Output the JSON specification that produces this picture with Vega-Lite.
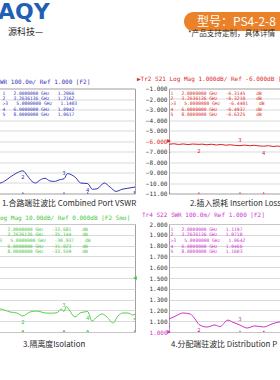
{
  "$schema": "https://vega.github.io/schema/vega-lite/v6.json",
  "padding": {"left": -33, "top": 0, "right": 0, "bottom": 0},
  "background": "white",
  "columns": 2,
  "align": "each",
  "bounds": "flush",
  "spacing": {"row": 30.5, "column": 34},
  "datasets": {
    "t1": [{"f":2.0,"v":1.2066},{"f":2.15,"v":1.15},{"f":2.3,"v":1.10},{"f":2.5,"v":1.12},{"f":2.75,"v":1.16},{"f":3.0,"v":1.195},{"f":3.2636,"v":1.2162},{"f":3.45,"v":1.17},{"f":3.65,"v":1.115},{"f":3.8,"v":1.10},{"f":4.0,"v":1.13},{"f":4.2,"v":1.145},{"f":4.4,"v":1.12},{"f":4.6,"v":1.115},{"f":4.8,"v":1.13},{"f":5.0,"v":1.1403},{"f":5.15,"v":1.19},{"f":5.3,"v":1.18},{"f":5.5,"v":1.15},{"f":5.7,"v":1.10},{"f":6.0,"v":1.0942},{"f":6.2,"v":1.04},{"f":6.4,"v":1.045},{"f":6.7,"v":1.10},{"f":6.95,"v":1.06},{"f":7.2,"v":1.02},{"f":7.45,"v":1.04},{"f":7.7,"v":1.05},{"f":8.0,"v":1.0617}],
    "t2": [{"f":2.0,"v":-6.3145},{"f":2.2,"v":-6.26},{"f":2.4,"v":-6.33},{"f":2.6,"v":-6.28},{"f":2.8,"v":-6.34},{"f":3.0,"v":-6.29},{"f":3.2636,"v":-6.321},{"f":3.4,"v":-6.30},{"f":3.6,"v":-6.36},{"f":3.8,"v":-6.31},{"f":4.0,"v":-6.38},{"f":4.2,"v":-6.33},{"f":4.4,"v":-6.40},{"f":4.6,"v":-6.36},{"f":4.8,"v":-6.42},{"f":5.0,"v":-6.4401},{"f":5.2,"v":-6.39},{"f":5.4,"v":-6.45},{"f":5.6,"v":-6.41},{"f":5.8,"v":-6.47},{"f":6.0,"v":-6.4937},{"f":6.2,"v":-6.45},{"f":6.4,"v":-6.52},{"f":6.6,"v":-6.48},{"f":6.8,"v":-6.55},{"f":7.0,"v":-6.51},{"f":7.2,"v":-6.58},{"f":7.4,"v":-6.54},{"f":7.6,"v":-6.61},{"f":7.8,"v":-6.57},{"f":8.0,"v":-6.6325}],
    "t3": [{"f":2.0,"v":-33.681},{"f":2.3,"v":-28.7},{"f":2.72,"v":-31.5},{"f":3.01,"v":-32.4},{"f":3.2636,"v":-35.144},{"f":3.56,"v":-31.5},{"f":3.86,"v":-30.6},{"f":4.2,"v":-32.4},{"f":4.41,"v":-32.6},{"f":4.7,"v":-32.2},{"f":4.88,"v":-28.7},{"f":5.0,"v":-30.937},{"f":5.1,"v":-26.5},{"f":5.25,"v":-30.6},{"f":5.46,"v":-36.1},{"f":5.68,"v":-32.4},{"f":5.84,"v":-31.5},{"f":6.0,"v":-31.023},{"f":6.18,"v":-39.8},{"f":6.39,"v":-36.1},{"f":6.61,"v":-33.3},{"f":6.82,"v":-36.1},{"f":7.07,"v":-41.7},{"f":7.28,"v":-35.2},{"f":7.49,"v":-32.4},{"f":7.7,"v":-32.4},{"f":7.91,"v":-34.3},{"f":8.0,"v":-33.559}],
    "t4": [{"f":2.0,"v":1.1197},{"f":2.3,"v":1.15},{"f":2.59,"v":1.176},{"f":2.89,"v":1.167},{"f":3.1,"v":1.12},{"f":3.2636,"v":1.071},{"f":3.6,"v":1.046},{"f":3.94,"v":1.065},{"f":4.15,"v":1.05},{"f":4.49,"v":1.11},{"f":4.7,"v":1.09},{"f":5.0,"v":1.0642},{"f":5.3,"v":1.037},{"f":5.63,"v":1.056},{"f":6.0,"v":1.0466},{"f":6.35,"v":1.074},{"f":6.69,"v":1.093},{"f":7.0,"v":1.07},{"f":7.4,"v":1.12},{"f":8.0,"v":1.1603}],
    "k1": [
      {"m":1,"f":2.0,"v":1.2066,"label":"\u00a01\u00a0\u00a0\u00a02.0000000\u00a0GHz\u00a0\u00a0\u00a01.2066"},
      {"m":2,"f":3.2636,"v":1.2162,"label":"\u00a02\u00a0\u00a0\u00a03.2636136\u00a0GHz\u00a0\u00a0\u00a01.2162"},
      {"m":3,"f":5.0,"v":1.1403,"label":">3\u00a0\u00a0\u00a05.0000000\u00a0GHz\u00a0\u00a0\u00a01.1403"},
      {"m":4,"f":6.0,"v":1.0942,"label":"\u00a04\u00a0\u00a0\u00a06.0000000\u00a0GHz\u00a0\u00a0\u00a01.0942"},
      {"m":5,"f":8.0,"v":1.0617,"label":"\u00a05\u00a0\u00a0\u00a08.0000000\u00a0GHz\u00a0\u00a0\u00a01.0617"}
    ],
    "k2": [
      {"m":1,"f":2.0,"v":-6.3145,"label":"\u00a01\u00a0\u00a0\u00a02.0000000\u00a0GHz\u00a0\u00a0\u00a0-6.3145\u00a0\u00a0\u00a0\u00a0dB"},
      {"m":2,"f":3.2636,"v":-6.321,"label":"\u00a02\u00a0\u00a0\u00a03.2636136\u00a0GHz\u00a0\u00a0\u00a0-6.3210\u00a0\u00a0\u00a0\u00a0dB"},
      {"m":3,"f":5.0,"v":-6.4401,"label":">3\u00a0\u00a0\u00a05.0000000\u00a0GHz\u00a0\u00a0\u00a0-6.4401\u00a0\u00a0\u00a0\u00a0dB"},
      {"m":4,"f":6.0,"v":-6.4937,"label":"\u00a04\u00a0\u00a0\u00a06.0000000\u00a0GHz\u00a0\u00a0\u00a0-6.4937\u00a0\u00a0\u00a0\u00a0dB"},
      {"m":5,"f":8.0,"v":-6.6325,"label":"\u00a05\u00a0\u00a0\u00a08.0000000\u00a0GHz\u00a0\u00a0\u00a0-6.6325\u00a0\u00a0\u00a0\u00a0dB"}
    ],
    "k3": [
      {"m":1,"f":2.0,"v":-33.681,"label":"\u00a01\u00a0\u00a0\u00a02.0000000\u00a0GHz\u00a0\u00a0\u00a0-33.681\u00a0\u00a0\u00a0\u00a0dB"},
      {"m":2,"f":3.2636,"v":-35.144,"label":"\u00a02\u00a0\u00a0\u00a03.2636136\u00a0GHz\u00a0\u00a0\u00a0-35.144\u00a0\u00a0\u00a0\u00a0dB"},
      {"m":3,"f":5.0,"v":-30.937,"label":">3\u00a0\u00a0\u00a05.0000000\u00a0GHz\u00a0\u00a0\u00a0-30.937\u00a0\u00a0\u00a0\u00a0dB"},
      {"m":4,"f":6.0,"v":-31.023,"label":"\u00a04\u00a0\u00a0\u00a06.0000000\u00a0GHz\u00a0\u00a0\u00a0-31.023\u00a0\u00a0\u00a0\u00a0dB"},
      {"m":5,"f":8.0,"v":-33.559,"label":"\u00a05\u00a0\u00a0\u00a08.0000000\u00a0GHz\u00a0\u00a0\u00a0-33.559\u00a0\u00a0\u00a0\u00a0dB"}
    ],
    "k4": [
      {"m":1,"f":2.0,"v":1.1197,"label":"\u00a01\u00a0\u00a0\u00a02.0000000\u00a0GHz\u00a0\u00a0\u00a01.1197"},
      {"m":2,"f":3.2636,"v":1.071,"label":"\u00a02\u00a0\u00a0\u00a03.2636136\u00a0GHz\u00a0\u00a0\u00a01.0710"},
      {"m":3,"f":5.0,"v":1.0642,"label":">3\u00a0\u00a0\u00a05.0000000\u00a0GHz\u00a0\u00a0\u00a01.0642"},
      {"m":4,"f":6.0,"v":1.0466,"label":"\u00a04\u00a0\u00a0\u00a06.0000000\u00a0GHz\u00a0\u00a0\u00a01.0466"},
      {"m":5,"f":8.0,"v":1.1603,"label":"\u00a05\u00a0\u00a0\u00a08.0000000\u00a0GHz\u00a0\u00a0\u00a01.1603"}
    ]
  },
  "concat": [
    {
      "width": 142, "height": 58,
      "view": {"stroke": null},
      "data": {"values": [{}]},
      "layer": [
        {"mark": {"type": "text", "text": "AQY", "align": "left", "baseline": "middle", "font": "DejaVu Sans", "fontWeight": "bold", "fontSize": 22, "color": "#1f5fb5"},
         "encoding": {"x": {"datum": 5, "type": "quantitative", "scale": {"domain": [0, 142], "nice": false, "zero": false}, "axis": null},
                      "y": {"datum": 11.5, "type": "quantitative", "scale": {"domain": [0, 58], "reverse": true, "nice": false, "zero": false}, "axis": null}}},
        {"mark": {"type": "text", "text": "源科技—", "align": "left", "baseline": "middle", "font": "Noto Sans CJK SC", "fontSize": 9, "color": "#222222"},
         "encoding": {"x": {"datum": 15, "type": "quantitative", "scale": {"domain": [0, 142], "nice": false, "zero": false}, "axis": null},
                      "y": {"datum": 32, "type": "quantitative", "scale": {"domain": [0, 58], "reverse": true, "nice": false, "zero": false}, "axis": null}}}
      ]
    },
    {
      "width": 111, "height": 58,
      "view": {"stroke": null},
      "data": {"values": [{}]},
      "layer": [
        {"mark": {"type": "rect", "color": "#eb8128", "cornerRadiusTopLeft": 9.5, "cornerRadiusBottomLeft": 9.5},
         "encoding": {"x": {"datum": 15, "type": "quantitative", "scale": {"domain": [0, 111], "nice": false, "zero": false}, "axis": null},
                      "x2": {"datum": 111},
                      "y": {"datum": 12, "type": "quantitative", "scale": {"domain": [0, 58], "reverse": true, "nice": false, "zero": false}, "axis": null},
                      "y2": {"datum": 31}}},
        {"mark": {"type": "text", "text": "型号：PS4-2-8", "align": "left", "baseline": "middle", "font": "Noto Sans CJK SC", "fontSize": 12, "color": "white"},
         "encoding": {"x": {"datum": 28, "type": "quantitative", "scale": {"domain": [0, 111], "nice": false, "zero": false}, "axis": null},
                      "y": {"datum": 21.5, "type": "quantitative", "scale": {"domain": [0, 58], "reverse": true, "nice": false, "zero": false}, "axis": null}}},
        {"mark": {"type": "text", "text": "*产品支持定制，具体详情", "align": "left", "baseline": "middle", "font": "Noto Sans CJK SC", "fontSize": 7.6, "color": "#333333"},
         "encoding": {"x": {"datum": 19, "type": "quantitative", "scale": {"domain": [0, 111], "nice": false, "zero": false}, "axis": null},
                      "y": {"datum": 34, "type": "quantitative", "scale": {"domain": [0, 58], "reverse": true, "nice": false, "zero": false}, "axis": null}}}
      ]
    },
    {
      "width": 142, "height": 105,
      "title": {"text": "Tr1 S11 SWR 100.0m/ Ref 1.000 [F2]", "anchor": "start", "frame": "group", "dx": -25.5, "offset": 4, "font": "DejaVu Sans Mono", "fontSize": 6.0, "fontWeight": "normal", "color": "#3333b8"},
      "resolve": {"scale": {"y": "independent"}},
      "layer": [
        {"data": {"name": "t1"}, "mark": {"type": "line", "color": "#3333b8", "strokeWidth": 1, "interpolate": "monotone", "clip": true},
         "encoding": {
           "x": {"field": "f", "type": "quantitative", "scale": {"domain": [2, 8], "nice": false, "zero": false},
                 "axis": {"values": [2, 2.6, 3.2, 3.8, 4.4, 5, 5.6, 6.2, 6.8, 7.4, 8], "labels": false, "grid": true, "title": null}},
           "y": {"field": "v", "type": "quantitative", "scale": {"domain": [1, 2], "nice": false, "zero": false},
                 "axis": {"values": [1, 1.1, 1.2, 1.3, 1.4, 1.5, 1.6, 1.7, 1.8, 1.9, 2], "labels": false, "grid": true, "title": null}}}},
        {"data": {"values": [{"caption": "1.合路端驻波比 Combined Port VSWR"}]},
         "mark": {"type": "text", "align": "left", "baseline": "middle", "dy": 10.5, "font": "Noto Sans CJK SC", "fontSize": 7.9, "color": "#2a2a2a"},
         "encoding": {"x": {"datum": 2.38, "type": "quantitative", "scale": {"domain": [2, 8], "nice": false, "zero": false}, "axis": null},
                      "y": {"datum": 1, "type": "quantitative", "scale": {"domain": [1, 2], "nice": false, "zero": false}, "axis": null},
                      "text": {"field": "caption", "type": "nominal"}}},
        {"data": {"name": "k1"}, "transform": [{"filter": "datum.m == 3"}],
         "mark": {"type": "text", "font": "DejaVu Sans Mono", "fontSize": 5.5, "color": "#3333b8", "dy": -6, "clip": true},
         "encoding": {"x": {"field": "f", "type": "quantitative", "scale": {"domain": [2, 8], "nice": false, "zero": false}, "axis": null},
                      "y": {"field": "v", "type": "quantitative", "scale": {"domain": [1, 2], "nice": false, "zero": false}, "axis": null},
                      "text": {"field": "m", "type": "nominal"}}},
        {"data": {"name": "k1"}, "transform": [{"filter": "datum.m != 3"}],
         "mark": {"type": "text", "font": "DejaVu Sans Mono", "fontSize": 5.5, "color": "#3333b8", "dy": 6, "clip": true},
         "encoding": {"x": {"field": "f", "type": "quantitative", "scale": {"domain": [2, 8], "nice": false, "zero": false}, "axis": null},
                      "y": {"field": "v", "type": "quantitative", "scale": {"domain": [1, 2], "nice": false, "zero": false}, "axis": null},
                      "text": {"field": "m", "type": "nominal"}}},
        {"data": {"name": "k1"},
         "mark": {"type": "point", "shape": "triangle-up", "filled": true, "size": 14, "color": "#3333b8", "opacity": 1, "clip": true},
         "encoding": {"x": {"field": "f", "type": "quantitative", "scale": {"domain": [2, 8], "nice": false, "zero": false}, "axis": null},
                      "y": {"datum": 1, "type": "quantitative", "scale": {"domain": [1, 2], "nice": false, "zero": false}, "axis": null}}},
        {"data": {"name": "k1"},
         "mark": {"type": "text", "align": "left", "baseline": "middle", "font": "DejaVu Sans Mono", "fontSize": 4.6, "color": "#3333b8"},
         "encoding": {"x": {"datum": 2.397, "type": "quantitative", "scale": {"domain": [2, 8], "nice": false, "zero": false}, "axis": null},
                      "y": {"field": "m", "type": "quantitative", "scale": {"domain": [0, 20], "reverse": true, "nice": false, "zero": false}, "axis": null},
                      "text": {"field": "label", "type": "nominal"}}}
      ]
    },
    {
      "width": 111, "height": 105,
      "title": {"text": "▶Tr2 S21 Log Mag 1.000dB/ Ref -6.000dB [F2]", "anchor": "start", "frame": "group", "dx": -32, "offset": 4, "font": "DejaVu Sans Mono", "fontSize": 6.0, "fontWeight": "normal", "color": "#dd1f1f"},
      "resolve": {"scale": {"y": "independent"}},
      "layer": [
        {"data": {"name": "t2"}, "mark": {"type": "line", "color": "#dd1f1f", "strokeWidth": 1, "clip": true},
         "encoding": {
           "x": {"field": "f", "type": "quantitative", "scale": {"domain": [2, 6.69], "nice": false, "zero": false},
                 "axis": {"values": [2, 2.6, 3.2, 3.8, 4.4, 5, 5.6, 6.2], "labels": false, "grid": true, "title": null}},
           "y": {"field": "v", "type": "quantitative", "scale": {"domain": [-11, -1], "nice": false, "zero": false},
                 "axis": {"values": [-11, -10, -9, -8, -7, -6, -5, -4, -3, -2, -1], "grid": true, "title": null,
                          "labelExpr": "datum.value <= -10 ? format(datum.value, '.2f') : format(datum.value, '.3f')",
                          "labelColor": {"condition": {"test": "datum.value == -6", "value": "#dd1f1f"}, "value": "#333333"}}}}},
        {"data": {"values": [{"caption": "2.插入损耗 Insertion Loss"}]},
         "mark": {"type": "text", "align": "left", "baseline": "middle", "dy": 10.5, "font": "Noto Sans CJK SC", "fontSize": 7.9, "color": "#2a2a2a"},
         "encoding": {"x": {"datum": 2.887, "type": "quantitative", "scale": {"domain": [2, 6.69], "nice": false, "zero": false}, "axis": null},
                      "y": {"datum": -11, "type": "quantitative", "scale": {"domain": [-11, -1], "nice": false, "zero": false}, "axis": null},
                      "text": {"field": "caption", "type": "nominal"}}},
        {"data": {"name": "k2"}, "transform": [{"filter": "datum.m == 3"}],
         "mark": {"type": "text", "font": "DejaVu Sans Mono", "fontSize": 5.5, "color": "#dd1f1f", "dy": -6, "clip": true},
         "encoding": {"x": {"field": "f", "type": "quantitative", "scale": {"domain": [2, 6.69], "nice": false, "zero": false}, "axis": null},
                      "y": {"field": "v", "type": "quantitative", "scale": {"domain": [-11, -1], "nice": false, "zero": false}, "axis": null},
                      "text": {"field": "m", "type": "nominal"}}},
        {"data": {"name": "k2"}, "transform": [{"filter": "datum.m != 3"}],
         "mark": {"type": "text", "font": "DejaVu Sans Mono", "fontSize": 5.5, "color": "#dd1f1f", "dy": 7, "clip": true},
         "encoding": {"x": {"field": "f", "type": "quantitative", "scale": {"domain": [2, 6.69], "nice": false, "zero": false}, "axis": null},
                      "y": {"field": "v", "type": "quantitative", "scale": {"domain": [-11, -1], "nice": false, "zero": false}, "axis": null},
                      "text": {"field": "m", "type": "nominal"}}},
        {"data": {"name": "k2"},
         "mark": {"type": "point", "shape": "triangle-up", "filled": true, "size": 14, "color": "#dd1f1f", "opacity": 1, "clip": true},
         "encoding": {"x": {"field": "f", "type": "quantitative", "scale": {"domain": [2, 6.69], "nice": false, "zero": false}, "axis": null},
                      "y": {"datum": -11, "type": "quantitative", "scale": {"domain": [-11, -1], "nice": false, "zero": false}, "axis": null}}},
        {"data": {"name": "k2"}, "transform": [{"filter": "datum.m == 1"}],
         "mark": {"type": "point", "shape": "triangle-right", "filled": true, "size": 18, "color": "#dd1f1f", "opacity": 1},
         "encoding": {"x": {"datum": 2, "type": "quantitative", "scale": {"domain": [2, 6.69], "nice": false, "zero": false}, "axis": null},
                      "y": {"datum": -6, "type": "quantitative", "scale": {"domain": [-11, -1], "nice": false, "zero": false}, "axis": null}}},
        {"data": {"name": "k2"},
         "mark": {"type": "text", "align": "left", "baseline": "middle", "font": "DejaVu Sans Mono", "fontSize": 4.6, "color": "#dd1f1f"},
         "encoding": {"x": {"datum": 2.063, "type": "quantitative", "scale": {"domain": [2, 6.69], "nice": false, "zero": false}, "axis": null},
                      "y": {"field": "m", "type": "quantitative", "scale": {"domain": [0, 20], "reverse": true, "nice": false, "zero": false}, "axis": null},
                      "text": {"field": "label", "type": "nominal"}}}
      ]
    },
    {
      "width": 142, "height": 108,
      "title": {"text": "Tr3 S32 Log Mag 10.00dB/ Ref 0.000dB [F2 Smo]", "anchor": "start", "frame": "group", "dx": -25.5, "offset": 3, "font": "DejaVu Sans Mono", "fontSize": 6.0, "fontWeight": "normal", "color": "#44c63c"},
      "resolve": {"scale": {"y": "independent"}},
      "layer": [
        {"data": {"name": "t3"}, "mark": {"type": "line", "color": "#55d048", "strokeWidth": 1, "interpolate": "monotone", "clip": true},
         "encoding": {
           "x": {"field": "f", "type": "quantitative", "scale": {"domain": [2, 8], "nice": false, "zero": false},
                 "axis": {"values": [2, 2.6, 3.2, 3.8, 4.4, 5, 5.6, 6.2, 6.8, 7.4, 8], "labels": false, "grid": true, "title": null}},
           "y": {"field": "v", "type": "quantitative", "scale": {"domain": [-50, 50], "nice": false, "zero": false},
                 "axis": {"values": [-50, -40, -30, -20, -10, 0, 10, 20, 30, 40, 50], "labels": false, "grid": true, "title": null}}}},
        {"data": {"values": [{"caption": "3.隔离度Isolation"}]},
         "mark": {"type": "text", "align": "left", "baseline": "middle", "dy": 13, "font": "Noto Sans CJK SC", "fontSize": 7.9, "color": "#2a2a2a"},
         "encoding": {"x": {"datum": 3.267, "type": "quantitative", "scale": {"domain": [2, 8], "nice": false, "zero": false}, "axis": null},
                      "y": {"datum": -50, "type": "quantitative", "scale": {"domain": [-50, 50], "nice": false, "zero": false}, "axis": null},
                      "text": {"field": "caption", "type": "nominal"}}},
        {"data": {"name": "k3"}, "transform": [{"filter": "datum.m == 3"}],
         "mark": {"type": "text", "font": "DejaVu Sans Mono", "fontSize": 5.5, "color": "#44c63c", "dy": -6, "clip": true},
         "encoding": {"x": {"field": "f", "type": "quantitative", "scale": {"domain": [2, 8], "nice": false, "zero": false}, "axis": null},
                      "y": {"field": "v", "type": "quantitative", "scale": {"domain": [-50, 50], "nice": false, "zero": false}, "axis": null},
                      "text": {"field": "m", "type": "nominal"}}},
        {"data": {"name": "k3"}, "transform": [{"filter": "datum.m != 3"}],
         "mark": {"type": "text", "font": "DejaVu Sans Mono", "fontSize": 5.5, "color": "#44c63c", "dy": 6, "clip": true},
         "encoding": {"x": {"field": "f", "type": "quantitative", "scale": {"domain": [2, 8], "nice": false, "zero": false}, "axis": null},
                      "y": {"field": "v", "type": "quantitative", "scale": {"domain": [-50, 50], "nice": false, "zero": false}, "axis": null},
                      "text": {"field": "m", "type": "nominal"}}},
        {"data": {"name": "k3"},
         "mark": {"type": "point", "shape": "triangle-up", "filled": false, "size": 16, "color": "#44c63c", "opacity": 1, "strokeWidth": 1, "clip": true},
         "encoding": {"x": {"field": "f", "type": "quantitative", "scale": {"domain": [2, 8], "nice": false, "zero": false}, "axis": null},
                      "y": {"datum": -50, "type": "quantitative", "scale": {"domain": [-50, 50], "nice": false, "zero": false}, "axis": null}}},
        {"data": {"name": "k3"}, "transform": [{"filter": "datum.m == 1"}],
         "mark": {"type": "point", "shape": "triangle-left", "filled": true, "size": 18, "color": "#44c63c", "opacity": 1},
         "encoding": {"x": {"datum": 8, "type": "quantitative", "scale": {"domain": [2, 8], "nice": false, "zero": false}, "axis": null},
                      "y": {"datum": 0, "type": "quantitative", "scale": {"domain": [-50, 50], "nice": false, "zero": false}, "axis": null}}},
        {"data": {"name": "k3"},
         "mark": {"type": "text", "align": "left", "baseline": "middle", "font": "DejaVu Sans Mono", "fontSize": 4.6, "color": "#44c63c"},
         "encoding": {"x": {"datum": 2.148, "type": "quantitative", "scale": {"domain": [2, 8], "nice": false, "zero": false}, "axis": null},
                      "y": {"field": "m", "type": "quantitative", "scale": {"domain": [0, 19.1], "reverse": true, "nice": false, "zero": false}, "axis": null},
                      "text": {"field": "label", "type": "nominal"}}}
      ]
    },
    {
      "width": 111, "height": 108,
      "title": {"text": "Tr4 S22 SWR 100.0m/ Ref 1.000 [F2]", "anchor": "start", "frame": "group", "dx": -27, "offset": 3, "font": "DejaVu Sans Mono", "fontSize": 6.0, "fontWeight": "normal", "color": "#cc33cc"},
      "resolve": {"scale": {"y": "independent"}},
      "layer": [
        {"data": {"name": "t4"}, "mark": {"type": "line", "color": "#cc33cc", "strokeWidth": 1, "interpolate": "monotone", "clip": true},
         "encoding": {
           "x": {"field": "f", "type": "quantitative", "scale": {"domain": [2, 6.69], "nice": false, "zero": false},
                 "axis": {"values": [2, 2.6, 3.2, 3.8, 4.4, 5, 5.6, 6.2], "labels": false, "grid": true, "title": null}},
           "y": {"field": "v", "type": "quantitative", "scale": {"domain": [1, 2], "nice": false, "zero": false},
                 "axis": {"values": [1, 1.1, 1.2, 1.3, 1.4, 1.5, 1.6, 1.7, 1.8, 1.9, 2], "format": ".3f", "grid": true, "title": null,
                          "labelColor": {"condition": {"test": "datum.value == 1", "value": "#cc33cc"}, "value": "#333333"}}}}},
        {"data": {"values": [{"caption": "4.分配端驻波比 Distribution Port VSWR"}]},
         "mark": {"type": "text", "align": "left", "baseline": "middle", "dy": 13, "font": "Noto Sans CJK SC", "fontSize": 7.9, "color": "#2a2a2a", "limit": 109, "ellipsis": "\u200b"},
         "encoding": {"x": {"datum": 2.085, "type": "quantitative", "scale": {"domain": [2, 6.69], "nice": false, "zero": false}, "axis": null},
                      "y": {"datum": 1, "type": "quantitative", "scale": {"domain": [1, 2], "nice": false, "zero": false}, "axis": null},
                      "text": {"field": "caption", "type": "nominal"}}},
        {"data": {"name": "k4"}, "transform": [{"filter": "datum.m == 3"}],
         "mark": {"type": "text", "font": "DejaVu Sans Mono", "fontSize": 5.5, "color": "#cc33cc", "dy": -6, "clip": true},
         "encoding": {"x": {"field": "f", "type": "quantitative", "scale": {"domain": [2, 6.69], "nice": false, "zero": false}, "axis": null},
                      "y": {"field": "v", "type": "quantitative", "scale": {"domain": [1, 2], "nice": false, "zero": false}, "axis": null},
                      "text": {"field": "m", "type": "nominal"}}},
        {"data": {"name": "k4"}, "transform": [{"filter": "datum.m != 3"}],
         "mark": {"type": "text", "font": "DejaVu Sans Mono", "fontSize": 5.5, "color": "#cc33cc", "dy": 6, "clip": true},
         "encoding": {"x": {"field": "f", "type": "quantitative", "scale": {"domain": [2, 6.69], "nice": false, "zero": false}, "axis": null},
                      "y": {"field": "v", "type": "quantitative", "scale": {"domain": [1, 2], "nice": false, "zero": false}, "axis": null},
                      "text": {"field": "m", "type": "nominal"}}},
        {"data": {"name": "k4"},
         "mark": {"type": "point", "shape": "triangle-up", "filled": true, "size": 14, "color": "#cc33cc", "opacity": 1, "clip": true},
         "encoding": {"x": {"field": "f", "type": "quantitative", "scale": {"domain": [2, 6.69], "nice": false, "zero": false}, "axis": null},
                      "y": {"datum": 1, "type": "quantitative", "scale": {"domain": [1, 2], "nice": false, "zero": false}, "axis": null}}},
        {"data": {"name": "k4"}, "transform": [{"filter": "datum.m == 1"}],
         "mark": {"type": "point", "shape": "triangle-right", "filled": true, "size": 18, "color": "#cc33cc", "opacity": 1},
         "encoding": {"x": {"datum": 2, "type": "quantitative", "scale": {"domain": [2, 6.69], "nice": false, "zero": false}, "axis": null},
                      "y": {"datum": 1, "type": "quantitative", "scale": {"domain": [1, 2], "nice": false, "zero": false}, "axis": null}}},
        {"data": {"name": "k4"},
         "mark": {"type": "text", "align": "left", "baseline": "middle", "font": "DejaVu Sans Mono", "fontSize": 4.6, "color": "#cc33cc"},
         "encoding": {"x": {"datum": 2.063, "type": "quantitative", "scale": {"domain": [2, 6.69], "nice": false, "zero": false}, "axis": null},
                      "y": {"field": "m", "type": "quantitative", "scale": {"domain": [0, 19.1], "reverse": true, "nice": false, "zero": false}, "axis": null},
                      "text": {"field": "label", "type": "nominal"}}}
      ]
    }
  ],
  "config": {
    "view": {"stroke": "#a0a0a0", "strokeWidth": 1},
    "axis": {"gridColor": "#cfcfcf", "gridWidth": 0.8, "gridOpacity": 1, "ticks": false, "domain": false,
             "labelFont": "DejaVu Sans Mono", "labelFontSize": 6, "labelColor": "#333333", "labelPadding": 2, "labelOverlap": false}
  }
}
